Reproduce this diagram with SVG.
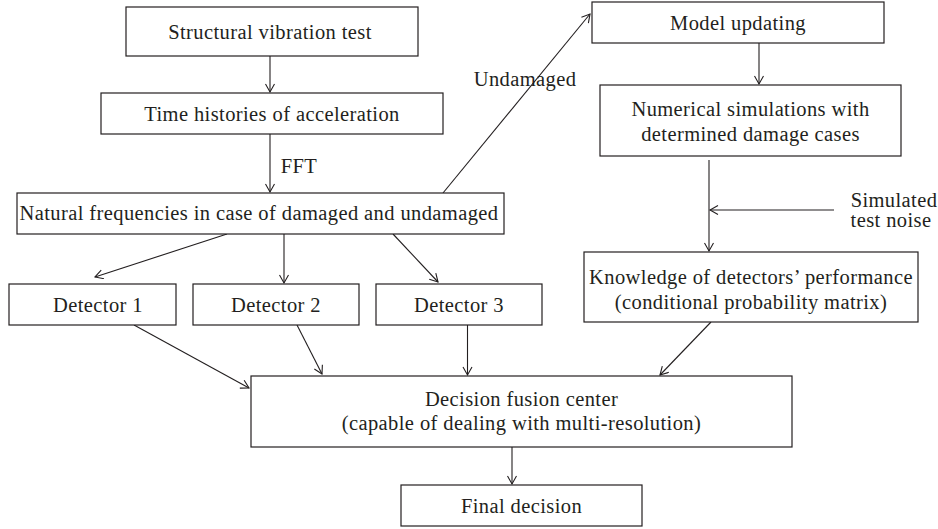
<svg xmlns="http://www.w3.org/2000/svg" width="938" height="529" viewBox="0 0 938 529">
<style>
.box{fill:#fff;stroke:#231f20;stroke-width:1.2}
.t{font-family:"Liberation Serif","Times New Roman",serif;font-size:20.5px;letter-spacing:0.4px;fill:#231f20;text-anchor:middle}
.c{stroke:#231f20;stroke-width:1.1;fill:none;marker-end:url(#ah)}
</style>
<defs>
<marker id="ah" markerWidth="12" markerHeight="12" refX="9" refY="5" orient="auto" markerUnits="userSpaceOnUse">
<path d="M1,0.5 L9,5 L1,9.5" fill="none" stroke="#231f20" stroke-width="1.1"/>
</marker>
</defs>
<rect width="938" height="529" fill="#fff"/>
<g id="connectors">
<line class="c" x1="270" y1="56" x2="270" y2="92"/>
<line class="c" x1="270" y1="134" x2="270" y2="192"/>
<line class="c" x1="443" y1="193" x2="590" y2="14"/>
<line class="c" x1="759" y1="43" x2="759" y2="84"/>
<line class="c" x1="709" y1="160" x2="709" y2="251"/>
<line class="c" x1="834" y1="210" x2="710" y2="210"/>
<line class="c" x1="227" y1="234" x2="95" y2="277"/>
<line class="c" x1="284" y1="234" x2="284" y2="283"/>
<line class="c" x1="393" y1="234" x2="438" y2="282"/>
<line class="c" x1="134" y1="325" x2="249" y2="388"/>
<line class="c" x1="297" y1="325" x2="322" y2="374"/>
<line class="c" x1="467.5" y1="325" x2="467.5" y2="375"/>
<line class="c" x1="711" y1="322" x2="660" y2="375"/>
<line class="c" x1="512" y1="447" x2="512" y2="484"/>
<text class="t" x="299" y="173">FFT</text>
<text class="t" x="525" y="86">Undamaged</text>
<text class="t" x="894" y="207">Simulated</text>
<text class="t" x="891" y="227">test noise</text>
</g>
<g id="n1"><rect class="box" x="126" y="7" width="292" height="49"/><text class="t" x="270" y="39">Structural vibration test</text></g>
<g id="n2"><rect class="box" x="101" y="93" width="342" height="41"/><text class="t" x="272" y="121">Time histories of acceleration</text></g>
<g id="n3"><rect class="box" x="17" y="193" width="487" height="41"/><text class="t" x="259" y="220">Natural frequencies in case of damaged and undamaged</text></g>
<g id="n4"><rect class="box" x="592" y="2" width="292" height="41"/><text class="t" x="738" y="30">Model updating</text></g>
<g id="n5"><rect class="box" x="600" y="85" width="301" height="71"/><text class="t" x="750.5" y="116">Numerical simulations with</text><text class="t" x="750.5" y="141">determined damage cases</text></g>
<g id="n6"><rect class="box" x="584" y="252" width="334" height="70"/><text class="t" x="751" y="284">Knowledge of detectors’ performance</text><text class="t" x="751" y="309">(conditional probability matrix)</text></g>
<g id="n7"><rect class="box" x="9" y="284" width="167" height="41"/><text class="t" x="98" y="312">Detector 1</text></g>
<g id="n8"><rect class="box" x="193" y="284" width="166" height="41"/><text class="t" x="276" y="312">Detector 2</text></g>
<g id="n9"><rect class="box" x="376" y="284" width="166" height="41"/><text class="t" x="459" y="312">Detector 3</text></g>
<g id="n10"><rect class="box" x="251" y="376" width="541" height="71"/><text class="t" x="521.5" y="406">Decision fusion center</text><text class="t" x="521.5" y="430">(capable of dealing with multi-resolution)</text></g>
<g id="n11"><rect class="box" x="401" y="485" width="241" height="41"/><text class="t" x="521.5" y="513">Final decision</text></g>
</svg>
